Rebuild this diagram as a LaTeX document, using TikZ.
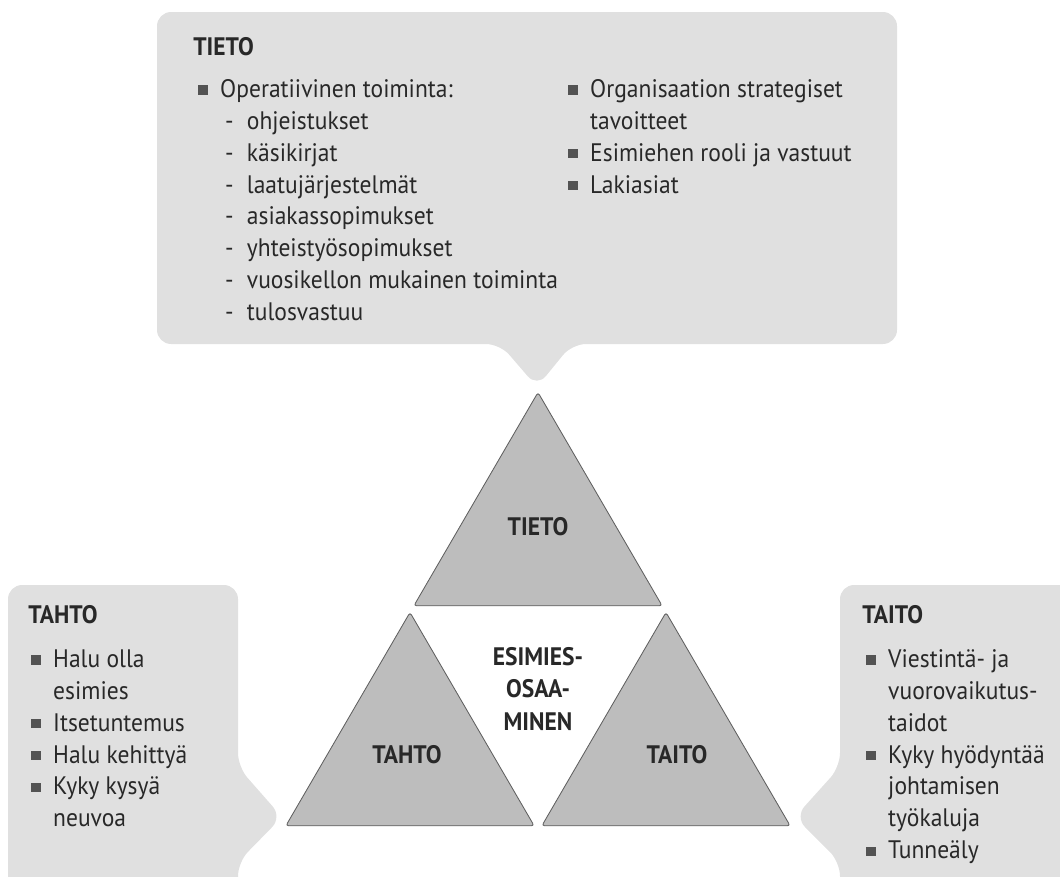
\documentclass[tikz,border=0pt]{standalone}
\usepackage{fontspec}
\setmainfont{PT Sans}[FakeStretch=0.93]
\usetikzlibrary{calc}

\definecolor{boxgray}{RGB}{224,224,224}
\definecolor{trigray}{RGB}{189,189,189}
\definecolor{edgegray}{RGB}{95,95,95}
\definecolor{inkgray}{RGB}{40,40,40}

% first-line strut: the top of a list node lies 14pt above its first baseline
\newcommand{\tp}{\rule{0pt}{14pt}}
\newcommand{\sq}{\textcolor{inkgray!80}{\rule[1.9pt]{6.6pt}{6.6pt}}}
\newcommand{\itm}[1]{\makebox[15.6pt][l]{\sq}#1}
\newcommand{\subitm}[1]{\hspace*{19pt}\makebox[15.6pt][l]{-}#1}
\newcommand{\cnt}[1]{\hspace*{15.6pt}#1}

\tikzset{
	txt/.style={text=inkgray, align=left, inner sep=0pt, anchor=north west,
		font=\fontsize{18pt}{22.7pt}\selectfont},
	head/.style={text=inkgray, inner sep=0pt, anchor=base west,
		font=\fontsize{18pt}{22.7pt}\selectfont\bfseries},
	lbl/.style={text=inkgray, align=center, inner sep=0pt,
		font=\fontsize{18pt}{23.4pt}\selectfont\bfseries},
	part/.style={fill=trigray, draw=edgegray, line width=0.6pt, line join=round, rounded corners=2pt},
	bubble/.style={fill=boxgray, rounded corners=10pt}
}

\begin{document}
\begin{tikzpicture}[x=0.025cm, y=-0.025cm]
	\useasboundingbox (0,0) rectangle (1060,876);
	\clip (0,0) rectangle (1060,876);

	% speech bubbles
	\fill[bubble] (157,12) -- (897,12) -- (897,344) -- (572,344) -- (537,387) -- (500,344) -- (157,344) -- cycle;
	\fill[bubble] (8,585) -- (238,585) -- (238,767) -- (282,817) -- (238,862) -- (238,920) -- (8,920) -- cycle;
	\fill[bubble] (840,585) -- (1090,585) -- (1090,920) -- (840,920) -- (840,862) -- (795,817) -- (840,767) -- cycle;

	% triangle corners and midpoints
	\coordinate (apex) at (538,388);
	\coordinate (bl) at (282,828);
	\coordinate (br) at (794,828);
	\coordinate (ml) at ($(apex)!0.5!(bl)$);
	\coordinate (mr) at ($(apex)!0.5!(br)$);
	\coordinate (mb) at ($(bl)!0.5!(br)$);

	% the three outer parts, pulled in a little
	\foreach \a/\b/\c in {apex/ml/mr, ml/bl/mb, mr/mb/br}{
		\coordinate (g) at ($0.3333*(\a)+0.3333*(\b)+0.3333*(\c)$);
		\draw[part] ($(g)!0.97!(\a)$) -- ($(g)!0.97!(\b)$) -- ($(g)!0.97!(\c)$) -- cycle;
	}

	% triangle labels
	\node[lbl] (tieto) at (538,527) {TIETO};
	\node[lbl] (tahto) at (407,755) {TAHTO};
	\node[lbl] (taito) at (677,755) {TAITO};
	\node[lbl] (core) at (538,689) {ESIMIES-\\OSAA-\\MINEN};

	% TIETO box
	\node[head] (tietoH) at (193,55) {TIETO};
	\node[txt] (tietoA) at (198,77.3) {\tp\itm{Operatiivinen toiminta:}\\
		\subitm{ohjeistukset}\\ \subitm{käsikirjat}\\ \subitm{laatujärjestelmät}\\
		\subitm{asiakassopimukset}\\ \subitm{yhteistyösopimukset}\\
		\subitm{vuosikellon mukainen toiminta}\\ \subitm{tulosvastuu}};
	\node[txt] (tietoB) at (568,77.3) {\tp\itm{Organisaation strategiset}\\ \cnt{tavoitteet}\\
		\itm{Esimiehen rooli ja vastuut}\\ \itm{Lakiasiat}};

	% TAHTO box
	\node[head] (tahtoH) at (28,623) {TAHTO};
	\node[txt] (tahtoA) at (31,647.3) {\tp\itm{Halu olla}\\ \cnt{esimies}\\ \itm{Itsetuntemus}\\
		\itm{Halu kehittyä}\\ \itm{Kyky kysyä}\\ \cnt{neuvoa}};

	% TAITO box
	\node[head] (taitoH) at (862,623) {TAITO};
	\node[txt] (taitoA) at (866,647.3) {\tp\itm{Viestintä- ja}\\ \cnt{vuorovaikutus-}\\ \cnt{taidot}\\
		\itm{Kyky hyödyntää}\\ \cnt{johtamisen}\\ \cnt{työkaluja}\\ \itm{Tunneäly}};
\end{tikzpicture}
\end{document}
